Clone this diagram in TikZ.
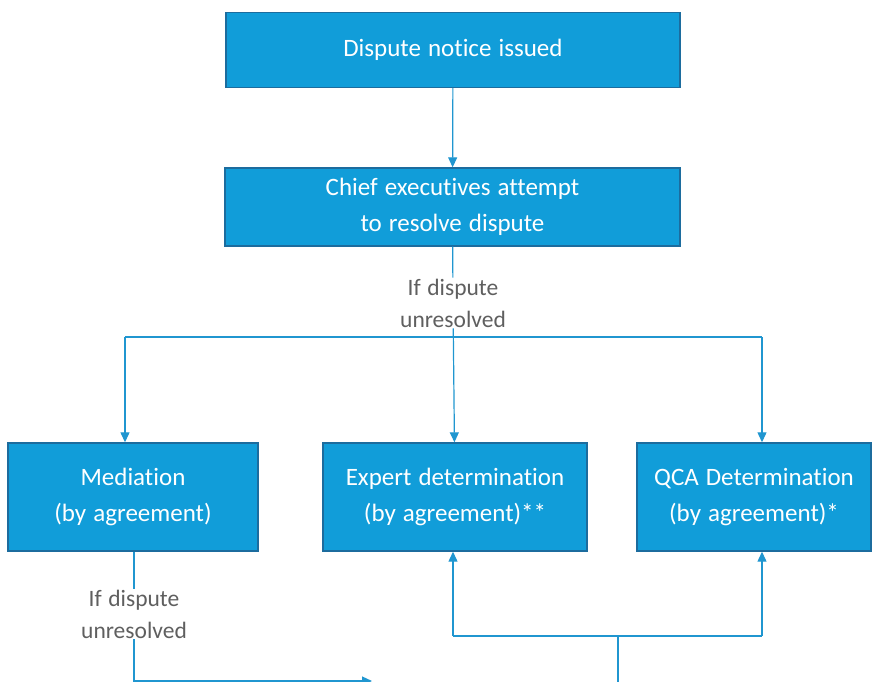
\documentclass[tikz,border=0pt]{standalone}
\usepackage{fontspec}
\setmainfont{Carlito}[Ligatures=NoCommon, WordSpace=1.25]
\usetikzlibrary{arrows.meta}
\definecolor{boxblue}{RGB}{17,157,217}
\definecolor{boxedge}{RGB}{28,108,158}
\definecolor{linkblue}{RGB}{32,150,208}
\definecolor{notegrey}{RGB}{95,95,95}
\tikzset{
  stagebox/.style={draw=boxedge, line width=1.4pt, fill=boxblue, text=white, align=center,
    font=\fontsize{25}{36}\selectfont, inner sep=0pt},
  note/.style={text=notegrey, align=center, font=\fontsize{23.5}{32}\selectfont, inner sep=1pt},
  link/.style={draw=linkblue, line width=1.2pt}
}
\begin{document}
\begin{tikzpicture}[x=1pt, y=1pt, >={Triangle[width=9pt,length=10pt]}]
        \useasboundingbox (0,0) rectangle (872,-682);
        % top boxes
        \node[stagebox, minimum width=454pt, minimum height=75pt] (notice) at (453,-50) {Dispute notice issued};
        \node[stagebox, minimum width=455pt, minimum height=78pt] (chief) at (452.5,-207) {Chief executives attempt\\to resolve dispute};
        
        % bottom boxes
        \node[stagebox, minimum width=250pt, minimum height=108pt] (mediation) at (133,-497) {Mediation\\(by agreement)};
        \node[stagebox, minimum width=264pt, minimum height=108pt] (expert) at (455,-497) {Expert determination\\(by agreement)**};
        \node[stagebox, minimum width=234pt, minimum height=108pt] (qca) at (754,-497) {QCA Determination\\(by agreement)*};
        
        % notes
        \node[note] (unres1) at (453,-303) {If dispute\\unresolved};
        \node[note] (unres2) at (134,-614) {If dispute\\unresolved};
        
        % branch points
        \coordinate (forkl) at (125,-337);
        \coordinate (forkr) at (762,-337);
        \coordinate (medturn) at (134,-681);
        \coordinate (medend) at (372,-681);
        \coordinate (joinbase) at (618,-682);
        \coordinate (joinmid) at (618,-636);
        \coordinate (joinl) at (453,-636);
        \coordinate (joinr) at (762,-636);
        
        % arrows
        \draw[link, ->] (notice) -- (chief);
        \draw[link] (chief) -- (unres1);
        \draw[link, ->] (unres1) -- (expert);
        \draw[link] (forkl) -- (forkr);
        \draw[link, ->] (forkl) -- (forkl |- mediation.north);
        \draw[link, ->] (forkr) -- (forkr |- qca.north);
        \draw[link] (mediation.south -| unres2) -- (unres2);
        \draw[link, ->] (unres2) -- (medturn) -- (medend);
        \draw[link] (joinbase) -- (joinmid);
        \draw[link] (joinl) -- (joinr);
        \draw[link, ->] (joinl) -- (joinl |- expert.south);
        \draw[link, ->] (joinr) -- (joinr |- qca.south);
    \end{tikzpicture}
\end{document}
